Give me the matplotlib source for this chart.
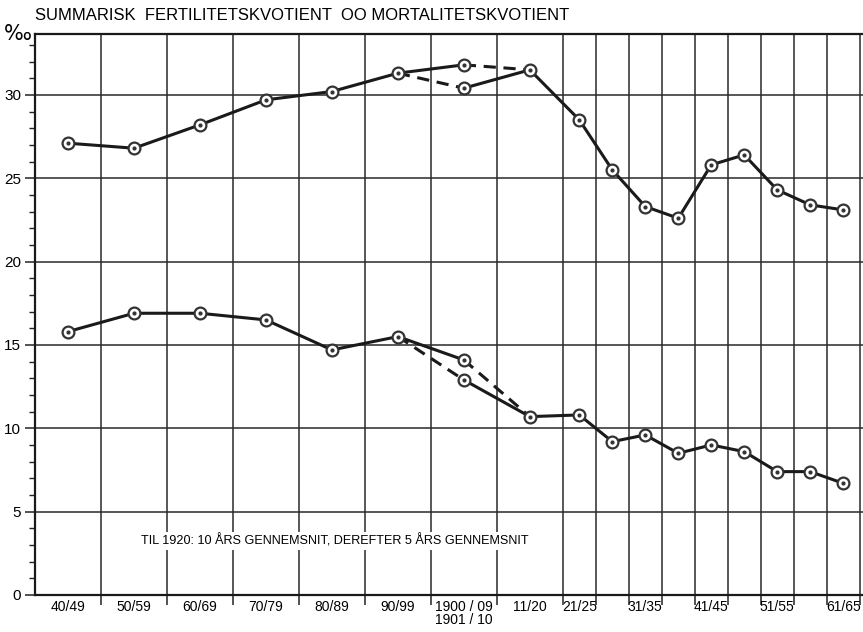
import matplotlib
matplotlib.use("Agg")
import matplotlib.pyplot as plt
from matplotlib.ticker import FixedLocator, MultipleLocator

# ---- data ----
period_labels = ["40/49", "50/59", "60/69", "70/79", "80/89", "90/99",
                 "1900 / 09\n1901 / 10", "11/20", "21/25", "31/35",
                 "41/45", "51/55", "61/65"]
label_pos = [1845, 1855, 1865, 1875, 1885, 1895, 1905, 1915,
             1922.5, 1932.5, 1942.5, 1952.5, 1962.5]
grid_x = [1850, 1860, 1870, 1880, 1890, 1900, 1910, 1920, 1925, 1930,
          1935, 1940, 1945, 1950, 1955, 1960, 1965]

# period midpoints
x_early = [1845, 1855, 1865, 1875, 1885, 1895]
x_mid = 1905
x_late = [1915, 1922.5, 1927.5, 1932.5, 1937.5, 1942.5, 1947.5,
          1952.5, 1957.5, 1962.5]

fert_early = [27.1, 26.8, 28.2, 29.7, 30.2, 31.3]
fert_1900_09 = 31.8
fert_1901_10 = 30.4
fert_late = [31.5, 28.5, 25.5, 23.3, 22.6, 25.8, 26.4, 24.3, 23.4, 23.1]

mort_early = [15.8, 16.9, 16.9, 16.5, 14.7, 15.5]
mort_1900_09 = 14.1
mort_1901_10 = 12.9
mort_late = [10.7, 10.8, 9.2, 9.6, 8.5, 9.0, 8.6, 7.4, 7.4, 6.7]

title = "SUMMARISK  FERTILITETSKVOTIENT  OO MORTALITETSKVOTIENT"
note = "TIL 1920: 10 ÅRS GENNEMSNIT, DEREFTER 5 ÅRS GENNEMSNIT"

base = ["Liberation Sans", "DejaVu Sans"]
plt.rcParams["font.family"] = base

fig = plt.figure(figsize=(8.63, 6.32), dpi=100)
ax = fig.add_axes([35 / 863, 1 - 595 / 632, 1 - 35 / 863, (595 - 33.5) / 632])

ax.set_xlim(1840, 1965.5)
ax.set_ylim(0, 33.68)

# grid
ax.xaxis.set_major_locator(FixedLocator(grid_x))
ax.xaxis.set_minor_locator(FixedLocator(label_pos))
ax.set_xticklabels([""] * len(grid_x))
ax.set_xticklabels(period_labels, minor=True, fontsize=10,
                   linespacing=0.95, va="top")
ax.tick_params(axis="x", which="major", length=7.5, width=1.1, color="#222222",
               direction="out")
ax.tick_params(axis="x", which="minor", length=0, pad=3.5)

ax.yaxis.set_major_locator(MultipleLocator(5))
ax.yaxis.set_minor_locator(MultipleLocator(1))
ax.tick_params(axis="y", which="major", length=7, width=1.1, color="#222222",
               labelsize=11, pad=3)
ax.tick_params(axis="y", which="minor", length=4, width=1.0, color="#222222")

ax.grid(True, which="major", color="#2a2a2a", linewidth=1.1)
ax.set_axisbelow(True)

for side in ["left", "bottom", "top"]:
    ax.spines[side].set_linewidth(1.6)
    ax.spines[side].set_color("#1a1a1a")
ax.spines["right"].set_visible(False)

lw = 2.2
col = "#1a1a1a"


def draw_series(early, v0009, v0110, late):
    # solid path through 1900/09
    ax.plot(x_early + [x_mid], early + [v0009], color=col, lw=lw,
            solid_capstyle="round", zorder=3)
    # solid path from 1901/10 onward
    ax.plot([x_mid] + x_late, [v0110] + late, color=col, lw=lw,
            solid_capstyle="round", zorder=3)
    # dashed alternatives
    ax.plot([x_early[-1], x_mid], [early[-1], v0110], color=col, lw=lw,
            ls=(0, (4, 2.5)), zorder=3)
    ax.plot([x_mid, x_late[0]], [v0009, late[0]], color=col, lw=lw,
            ls=(0, (4, 2.5)), zorder=3)
    xs = x_early + [x_mid, x_mid] + x_late
    ys = early + [v0009, v0110] + late
    ax.plot(xs, ys, ls="none", marker="o", ms=8.5, mfc="white",
            mec="#333333", mew=1.6, zorder=4)
    ax.plot(xs, ys, ls="none", marker="o", ms=2.0, mfc="#333333",
            mec="#333333", zorder=5)


draw_series(fert_early, fert_1900_09, fert_1901_10, fert_late)
draw_series(mort_early, mort_1900_09, mort_1901_10, mort_late)

ax.text(1856.1, 3.24, note, fontsize=9.1, va="center",
        ha="left", zorder=6,
        bbox=dict(facecolor="white", edgecolor="none", pad=1.5))

fig.text(35 / 863, 1 - 15 / 632, title, fontsize=12, ha="left",
         va="center")
fig.text(4 / 863, 1 - 34 / 632, "‰", fontsize=15, ha="left", va="center",
         family=["DejaVu Sans"])

fig.savefig("out.png", dpi=100)
